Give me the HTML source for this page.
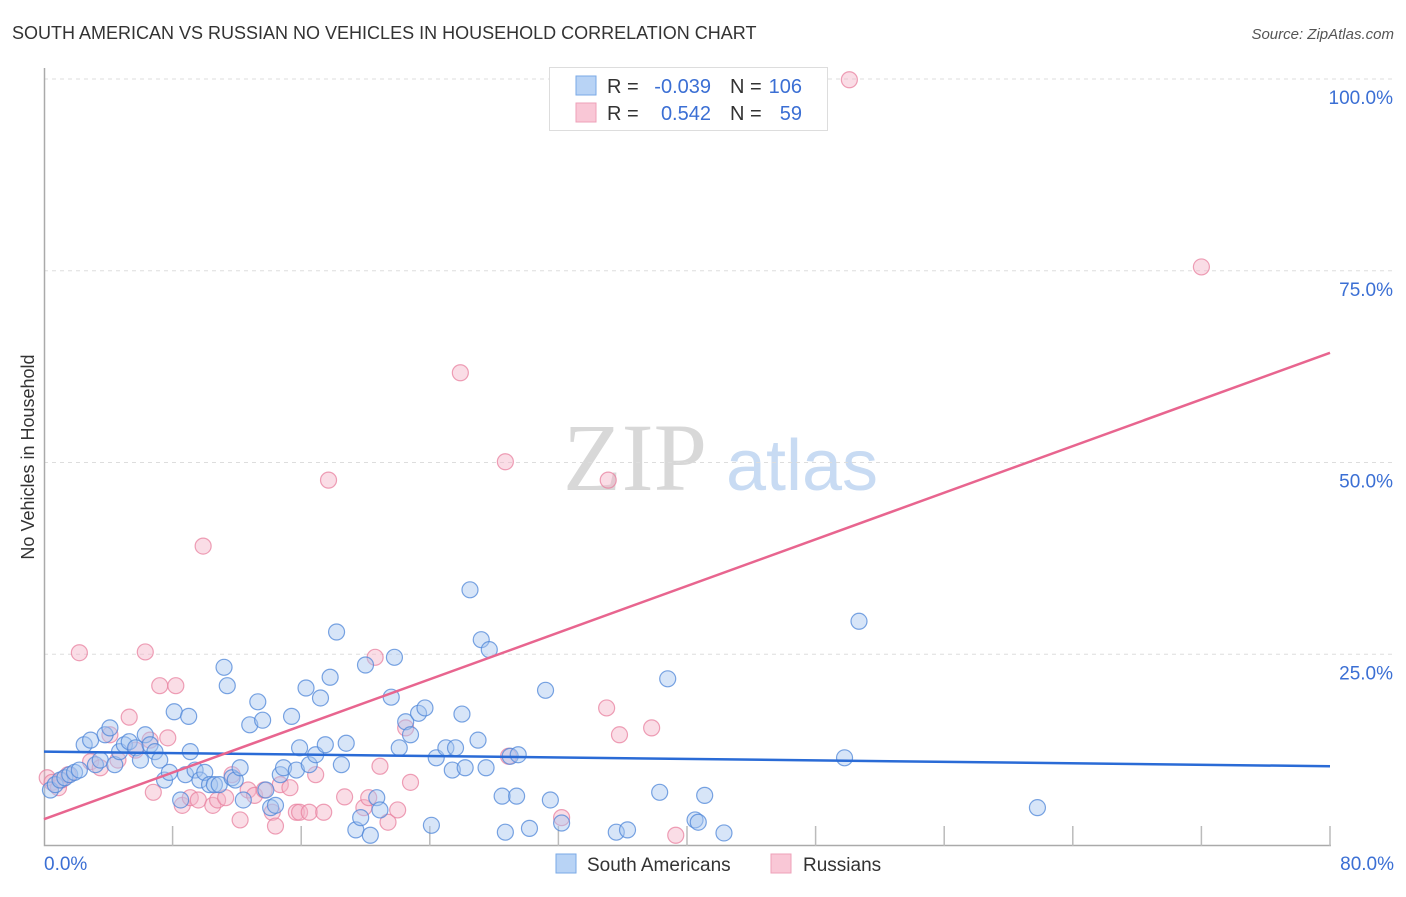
<!DOCTYPE html>
<html><head><meta charset="utf-8"><style>
body{margin:0;background:#fff;width:1406px;height:892px;overflow:hidden;font-family:"Liberation Sans",sans-serif}
</style></head><body>
<svg id="chart" width="1406" height="892" xmlns="http://www.w3.org/2000/svg" font-family="Liberation Sans, sans-serif">
<text x="12" y="39" font-size="18" fill="#333">SOUTH AMERICAN VS RUSSIAN NO VEHICLES IN HOUSEHOLD CORRELATION CHART</text>
<text x="1394" y="39" font-size="15" fill="#555" font-style="italic" text-anchor="end">Source: ZipAtlas.com</text>
<text transform="translate(34,457) rotate(-90)" font-size="18" fill="#333" text-anchor="middle">No Vehicles in Household</text>
<g>
<text x="635" y="490" font-size="96" fill="#d8d8d8" font-family="Liberation Serif, serif" text-anchor="middle">ZIP</text>
<text x="802" y="490" font-size="72" fill="#c8dbf3" text-anchor="middle">atlas</text>
</g>
<g id="grid"></g><g id="axes"></g><g id="pts"></g><g id="trend"></g>
<g>
<rect x="549.500" y="67.500" width="278" height="63" fill="#fff" stroke="#ddd"/>
<rect x="576" y="76" width="20" height="19" fill="#b8d3f5" stroke="#7aaae6"/>
<rect x="576" y="103" width="20" height="19" fill="#f9c7d6" stroke="#eea0b8"/>
<text x="607" y="93" font-size="20" fill="#333">R =</text>
<text x="711" y="93" font-size="20" fill="#3b6fd4" text-anchor="end">-0.039</text>
<text x="730" y="93" font-size="20" fill="#333">N =</text>
<text x="802" y="93" font-size="20" fill="#3b6fd4" text-anchor="end">106</text>
<text x="607" y="120" font-size="20" fill="#333">R =</text>
<text x="711" y="120" font-size="20" fill="#3b6fd4" text-anchor="end">0.542</text>
<text x="730" y="120" font-size="20" fill="#333">N =</text>
<text x="802" y="120" font-size="20" fill="#3b6fd4" text-anchor="end">59</text>
</g>
<g>
<rect x="556" y="854" width="20" height="19" fill="#b8d3f5" stroke="#7aaae6"/>
<text x="587" y="871" font-size="19" fill="#333">South Americans</text>
<rect x="771" y="854" width="20" height="19" fill="#f9c7d6" stroke="#eea0b8"/>
<text x="803" y="871" font-size="19" fill="#333">Russians</text>
</g>
</svg>
<script>
const xTickLabels=["0.0%","80.0%"];
const yTickValues=[25,50,75,100];
const yTickLabels=["25.0%","50.0%","75.0%","100.0%"];
const blueX=[0.4,0.7,1.0,1.3,1.6,1.9,2.2,2.5,2.9,3.2,3.5,3.8,4.1,4.4,4.7,5.0,5.3,5.7,6.0,6.3,6.6,6.9,7.2,7.5,7.8,8.1,8.5,8.8,9.0,9.1,9.4,9.7,10.0,10.3,10.6,10.9,11.2,11.4,11.7,11.9,12.2,12.4,12.8,13.3,13.6,13.8,14.1,14.4,14.7,14.9,15.4,15.7,15.9,16.3,16.5,16.9,17.2,17.5,17.8,18.2,18.5,18.8,19.4,19.7,20.0,20.3,20.7,20.9,21.6,21.8,22.1,22.5,22.8,23.3,23.7,24.1,24.4,25.0,25.4,25.6,26.0,26.2,26.5,27.0,27.2,27.5,27.7,28.5,28.7,29.0,29.4,29.5,30.2,31.2,31.5,32.2,35.6,36.3,38.3,38.8,40.5,40.7,41.1,42.3,49.8,50.7,61.8];
const blueY=[7.3,8.0,8.6,8.9,9.3,9.6,9.9,13.2,13.8,10.6,11.2,14.5,15.4,10.6,12.3,13.2,13.6,12.8,11.2,14.5,13.2,12.3,11.2,8.6,9.6,17.5,6.0,9.3,16.9,12.3,9.9,8.6,9.6,8.0,8.0,8.0,23.3,20.9,8.9,8.6,10.2,6.0,15.8,18.8,16.4,7.3,5.0,5.3,9.3,10.2,16.9,9.9,12.8,20.6,10.6,11.9,19.3,13.2,22.0,27.9,10.6,13.4,2.1,3.7,23.6,1.4,6.3,4.7,19.4,24.6,12.8,16.2,14.5,17.3,18.0,2.7,11.5,12.8,9.9,12.8,17.2,10.2,33.4,13.8,26.9,10.2,25.6,6.5,1.8,11.7,6.5,11.9,2.3,20.3,6.0,3.0,1.8,2.1,7.0,21.8,3.4,3.1,6.6,1.7,11.5,29.3,5.0];
const pinkX=[0.2,0.5,0.9,1.1,1.5,2.2,2.9,3.5,4.1,4.6,5.3,5.7,6.3,6.6,6.8,7.2,7.7,8.2,8.6,9.1,9.6,9.9,10.5,10.8,11.3,11.7,12.2,12.7,13.1,13.7,14.2,14.4,14.7,15.3,15.7,15.9,16.5,16.9,17.4,17.7,18.7,19.9,20.2,20.6,20.9,21.4,22.0,22.5,22.8,25.9,28.7,28.9,32.2,35.0,35.1,35.8,37.8,39.3,50.1,72.0];
const pinkY=[8.9,8.3,7.6,8.6,9.3,25.2,11.0,10.2,14.5,11.2,16.8,12.5,25.3,13.8,7.0,20.9,14.1,20.9,5.3,6.3,6.0,39.1,5.3,6.0,6.3,9.3,3.4,7.3,6.6,7.3,4.4,2.6,8.0,7.6,4.4,4.4,4.4,9.3,4.4,47.7,6.4,5.0,6.3,24.6,10.4,3.1,4.7,15.4,8.3,61.7,50.1,11.7,3.7,18.0,47.7,14.5,15.4,1.4,99.9,75.5];
const blueTrend=[12.3,10.4];
const pinkTrend=[3.5,64.3];
const xMax=80;
const NS="http://www.w3.org/2000/svg";
function sx(v){return 44+v/xMax*1286;}
function sy(v){return 846-v*7.67;}
function mk(tag,attrs,parent){const e=document.createElementNS(NS,tag);for(const k in attrs)e.setAttribute(k,attrs[k]);document.getElementById(parent).appendChild(e);return e;}
yTickValues.forEach((v,i)=>{
  const l=mk('line',{x1:44,x2:1394,y1:sy(v),y2:sy(v),stroke:'#ddd','stroke-dasharray':'4,4'},'grid');
  
  
  const t=mk('text',{x:1393,y:sy(v)+25,'font-size':19,fill:'#3b6fd4','text-anchor':'end'},'grid');
  t.textContent=yTickLabels[i];
  
  
});
const ax=mk('path',{d:'M44.500 68V845.500H1331',stroke:'#aaa',fill:'none','stroke-width':1.5},'axes');


for(let i=1;i<=10;i++){
  const tk=mk('line',{x1:sx(i*8),x2:sx(i*8),y1:826,y2:846,stroke:'#bbb','stroke-width':1.5},'axes');
  
  
}
const xl0=mk('text',{x:44,y:870,'font-size':19,fill:'#3b6fd4'},'axes');xl0.textContent=xTickLabels[0];


const xl1=mk('text',{x:1394,y:870,'font-size':19,fill:'#3b6fd4','text-anchor':'end'},'axes');xl1.textContent=xTickLabels[1];


function dots(xs,ys,fill,stroke,name){
  xs.forEach((x,i)=>{
    const c=mk('circle',{cx:sx(x),cy:sy(ys[i]),r:8,fill:fill,'fill-opacity':0.45,stroke:stroke,'stroke-opacity':0.75,'stroke-width':1.2},'pts');
    
    
  });
}
dots(pinkX,pinkY,'#f5b3c7','#e8809f','russian-point');
dots(blueX,blueY,'#a7c6f0','#4d86d8','south-american-point');
const bt=mk('line',{x1:sx(0),y1:sy(blueTrend[0]),x2:sx(xMax),y2:sy(blueTrend[1]),stroke:'#2a6bd6','stroke-width':2.5},'trend');


const pt=mk('line',{x1:sx(0),y1:sy(pinkTrend[0]),x2:sx(xMax),y2:sy(pinkTrend[1]),stroke:'#e8658f','stroke-width':2.5},'trend');


</script>
</body></html>
